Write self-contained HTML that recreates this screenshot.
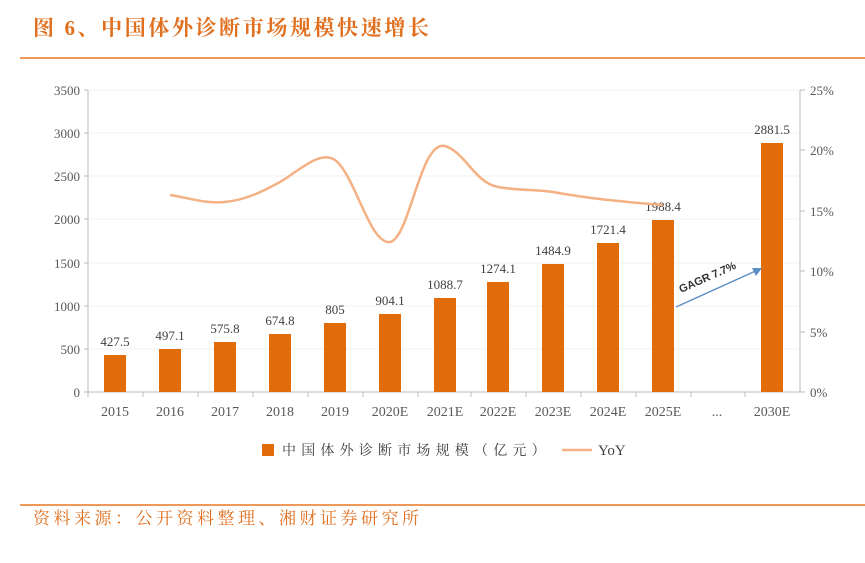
<!DOCTYPE html>
<html><head><meta charset="utf-8"><style>
body{margin:0;width:865px;height:558px;background:#fff;overflow:hidden;font-family:"Liberation Serif","Noto Serif CJK SC",serif}
</style></head><body>
<svg width="865" height="558" viewBox="0 0 865 558" xmlns="http://www.w3.org/2000/svg">
<text x="33" y="35" font-family="Liberation Serif,'Noto Serif CJK SC',serif" font-weight="bold" font-size="21" fill="#E07020" letter-spacing="2.6">图 6、中国体外诊断市场规模快速增长</text>
<line x1="20" y1="58" x2="865" y2="58" stroke="#E87722" stroke-width="1.5"/>
<g stroke="#f2f2f2" stroke-width="1">
<line x1="88" y1="90" x2="800" y2="90"/><line x1="88" y1="133" x2="800" y2="133"/><line x1="88" y1="176" x2="800" y2="176"/><line x1="88" y1="219" x2="800" y2="219"/><line x1="88" y1="263" x2="800" y2="263"/><line x1="88" y1="306" x2="800" y2="306"/><line x1="88" y1="349" x2="800" y2="349"/>
</g>
<g stroke="#bbb" stroke-width="1" fill="none">
<line x1="88" y1="90" x2="88" y2="392"/><line x1="800" y1="90" x2="800" y2="392"/><line x1="88" y1="392" x2="800" y2="392"/>
<line x1="84" y1="90" x2="88" y2="90"/><line x1="84" y1="133" x2="88" y2="133"/><line x1="84" y1="176" x2="88" y2="176"/><line x1="84" y1="219" x2="88" y2="219"/><line x1="84" y1="263" x2="88" y2="263"/><line x1="84" y1="306" x2="88" y2="306"/><line x1="84" y1="349" x2="88" y2="349"/><line x1="84" y1="392" x2="88" y2="392"/>
<line x1="800" y1="90" x2="805" y2="90"/><line x1="800" y1="150" x2="805" y2="150"/><line x1="800" y1="211" x2="805" y2="211"/><line x1="800" y1="271" x2="805" y2="271"/><line x1="800" y1="332" x2="805" y2="332"/><line x1="800" y1="392" x2="805" y2="392"/>
</g>
<g font-size="13" fill="#595959" text-anchor="end">
<text x="80" y="95">3500</text><text x="80" y="138">3000</text><text x="80" y="181">2500</text><text x="80" y="224">2000</text><text x="80" y="268">1500</text><text x="80" y="311">1000</text><text x="80" y="354">500</text><text x="80" y="397">0</text>
</g>
<g font-size="13" fill="#595959">
<text x="810" y="95">25%</text><text x="810" y="155">20%</text><text x="810" y="216">15%</text><text x="810" y="276">10%</text><text x="810" y="337">5%</text><text x="810" y="397">0%</text>
</g>
<g fill="#E36C0A">
<rect x="104" y="355" width="22" height="37"/><rect x="159" y="349" width="22" height="43"/><rect x="214" y="342" width="22" height="50"/><rect x="269" y="334" width="22" height="58"/><rect x="324" y="323" width="22" height="69"/><rect x="379" y="314" width="22" height="78"/><rect x="434" y="298" width="22" height="94"/><rect x="487" y="282" width="22" height="110"/><rect x="542" y="264" width="22" height="128"/><rect x="597" y="243" width="22" height="149"/><rect x="652" y="220" width="22" height="172"/><rect x="761" y="143" width="22" height="249"/>
</g>
<g font-size="13" fill="#404040" text-anchor="middle">
<text x="115" y="346">427.5</text><text x="170" y="340">497.1</text><text x="225" y="333">575.8</text><text x="280" y="325">674.8</text><text x="335" y="314">805</text><text x="390" y="305">904.1</text><text x="445" y="289">1088.7</text><text x="498" y="273">1274.1</text><text x="553" y="255">1484.9</text><text x="608" y="234">1721.4</text><text x="663" y="211">1988.4</text><text x="772" y="134">2881.5</text>
</g>
<path d="M170,195 C190,198 205,204 225,202 C245,200 262,192 280,182 C300,170 320,150 335,160 C355,175 370,245 390,242 C410,238 420,140 445,146 C465,152 475,183 498,187 C520,191 535,189 553,192 C575,196 590,198 608,200 C630,202 645,204 663,205" fill="none" stroke="#F4B183" stroke-width="2.5"/>
<g stroke="#bbb"><line x1="88" y1="392" x2="88" y2="397"/><line x1="143" y1="392" x2="143" y2="397"/><line x1="198" y1="392" x2="198" y2="397"/><line x1="253" y1="392" x2="253" y2="397"/><line x1="308" y1="392" x2="308" y2="397"/><line x1="363" y1="392" x2="363" y2="397"/><line x1="418" y1="392" x2="418" y2="397"/><line x1="471" y1="392" x2="471" y2="397"/><line x1="526" y1="392" x2="526" y2="397"/><line x1="581" y1="392" x2="581" y2="397"/><line x1="636" y1="392" x2="636" y2="397"/><line x1="691" y1="392" x2="691" y2="397"/><line x1="745" y1="392" x2="745" y2="397"/></g>
<g font-size="14" fill="#595959" text-anchor="middle">
<text x="115" y="416">2015</text><text x="170" y="416">2016</text><text x="225" y="416">2017</text><text x="280" y="416">2018</text><text x="335" y="416">2019</text><text x="390" y="416">2020E</text><text x="445" y="416">2021E</text><text x="498" y="416">2022E</text><text x="553" y="416">2023E</text><text x="608" y="416">2024E</text><text x="663" y="416">2025E</text><text x="717" y="416">...</text><text x="772" y="416">2030E</text>
</g>
<line x1="676" y1="307" x2="760" y2="269" stroke="#5B8EC5" stroke-width="1.5"/>
<path d="M762,268 L752,268 L756,276 Z" fill="#5B8EC5"/>
<text x="0" y="0" font-family="Liberation Sans,sans-serif" font-weight="bold" font-size="11" fill="#333" transform="translate(681,293) rotate(-24)">GAGR 7.7%</text>
<rect x="262" y="444" width="12" height="12" fill="#E36C0A"/>
<text x="282" y="455" font-size="14" fill="#404040" letter-spacing="5.2">中国体外诊断市场规模（亿元）</text>
<line x1="562" y1="450" x2="592" y2="450" stroke="#F4B183" stroke-width="2.5"/>
<text x="598" y="455" font-size="15" fill="#404040">YoY</text>
<line x1="20" y1="505" x2="865" y2="505" stroke="#E87722" stroke-width="1.5"/>
<text x="33" y="524" font-size="17" fill="#E07020" letter-spacing="3.5">资料来源：公开资料整理、湘财证券研究所</text>
</svg>
</body></html>
